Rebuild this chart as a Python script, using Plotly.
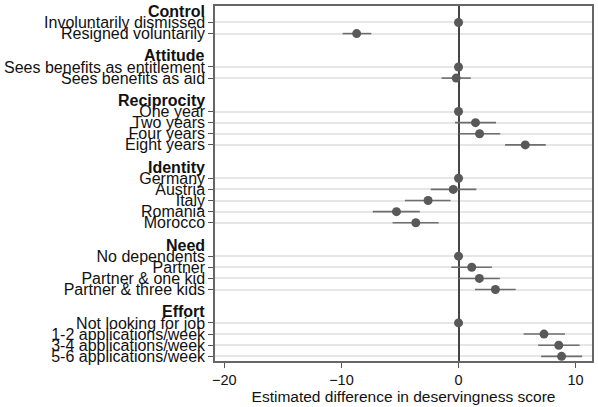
import plotly.graph_objects as go

groups = ["Control", "Attitude", "Reciprocity", "Identity", "Need", "Effort"]
group_items = [
    ["Involuntarily dismissed", "Resigned voluntarily"],
    ["Sees benefits as entitlement", "Sees benefits as aid"],
    ["One year", "Two years", "Four years", "Eight years"],
    ["Germany", "Austria", "Italy", "Romania", "Morocco"],
    ["No dependents", "Partner", "Partner & one kid", "Partner & three kids"],
    ["Not looking for job", "1-2 applications/week", "3-4 applications/week", "5-6 applications/week"],
]
estimates = [
    [0.0, -8.7],
    [0.0, -0.2],
    [0.0, 1.45, 1.8, 5.7],
    [0.0, -0.45, -2.6, -5.3, -3.65],
    [0.0, 1.13, 1.78, 3.15],
    [0.0, 7.3, 8.56, 8.8],
]
ci_low = [
    [None, -9.9],
    [None, -1.45],
    [None, -0.3, 0.05, 3.98],
    [None, -2.37, -4.58, -7.32, -5.63],
    [None, -0.62, 0.0, 1.41],
    [None, 5.56, 6.8, 7.06],
]
ci_high = [
    [None, -7.45],
    [None, 1.05],
    [None, 3.2, 3.56, 7.45],
    [None, 1.52, -0.68, -3.31, -1.7],
    [None, 2.85, 3.53, 4.88],
    [None, 9.09, 10.34, 10.56],
]
x_ticks = [-20, -10, 0, 10]

# build row positions: header row, items, gap row
header_pos, item_pos, item_lab, est, lo_err, hi_err = [], [], [], [], [], []
r = 0
for g, items, es, los, his in zip(groups, group_items, estimates, ci_low, ci_high):
    header_pos.append(r)
    r += 1
    for lab, e, lo, hi in zip(items, es, los, his):
        item_pos.append(r)
        item_lab.append(lab)
        est.append(e)
        lo_err.append(0 if lo is None else e - lo)
        hi_err.append(0 if hi is None else hi - e)
        r += 1
    r += 1

FONT = "Liberation Sans, Arial, sans-serif"

fig = go.Figure()
fig.add_trace(go.Scatter(
    x=est, y=item_pos, mode="markers",
    marker=dict(size=9, color="#595959"),
    error_x=dict(type="data", symmetric=False, array=hi_err, arrayminus=lo_err,
                 color="#6e6e6e", thickness=1.6, width=0),
    showlegend=False, hoverinfo="skip",
))

for g, p in zip(groups, header_pos):
    fig.add_annotation(x=0, xref="paper", y=p, yref="y", text="<b>" + g + "</b>",
                       showarrow=False, xanchor="right", yanchor="middle", xshift=-8,
                       font=dict(size=16, color="#111", family=FONT))

fig.update_layout(
    width=598, height=407,
    margin=dict(l=213, r=5, t=4, b=43),
    paper_bgcolor="white", plot_bgcolor="white",
    font=dict(family=FONT, size=14, color="#111"),
)
fig.update_xaxes(
    range=[-20.8, 11.4], tickvals=x_ticks, ticks="outside", ticklen=5, tickcolor="#555",
    tickfont=dict(size=14.5, family=FONT, color="#111"),
    showgrid=False, zeroline=True, zerolinecolor="#444", zerolinewidth=1.5,
    showline=True, linecolor="#666", linewidth=1.5, mirror=True,
    title=dict(text="Estimated difference in deservingness score", standoff=4,
               font=dict(size=15.5, family=FONT, color="#111")),
)
fig.update_yaxes(
    range=[31.42, -0.48], tickvals=item_pos, ticktext=item_lab, ticks="outside",
    ticklen=5, tickcolor="#555", tickfont=dict(size=16, family=FONT, color="#111"),
    showgrid=True, gridcolor="#e6e6e6", gridwidth=1.5,
    zeroline=False, showline=True, linecolor="#666", linewidth=1.5, mirror=True,
)
fig.write_html("out.html")
